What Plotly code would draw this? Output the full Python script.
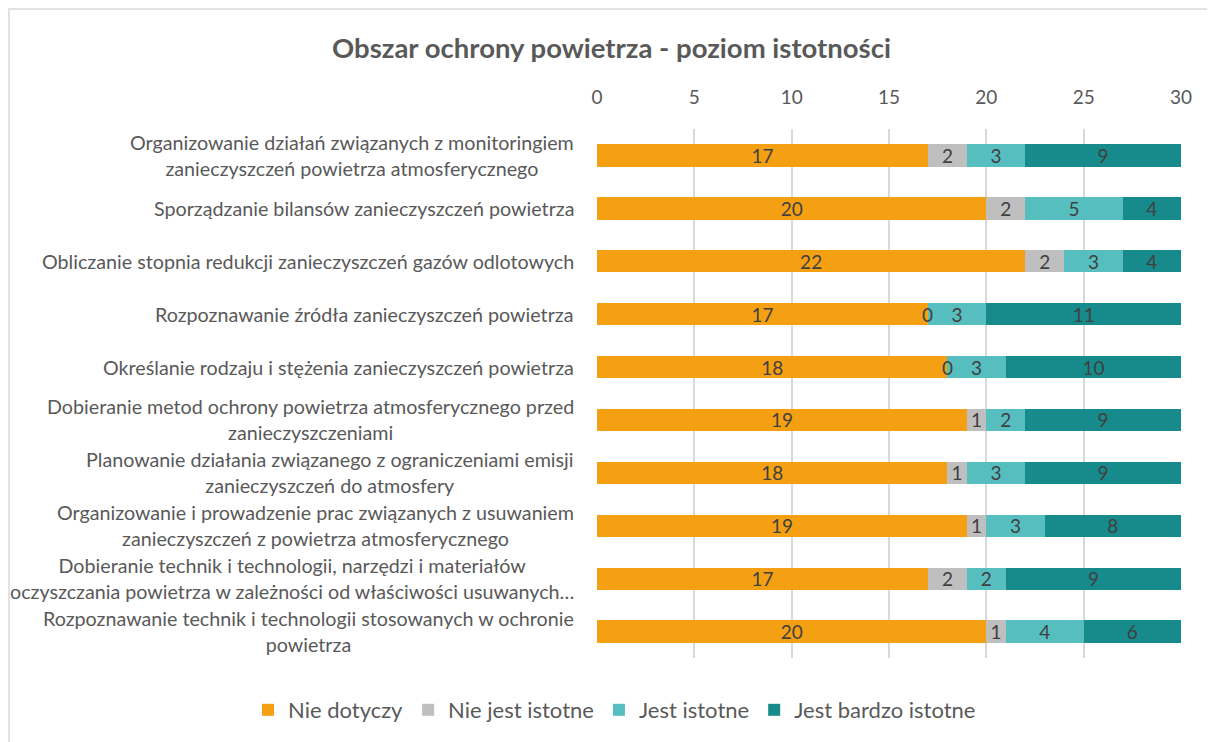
import plotly.graph_objects as go

categories = [
    "Organizowanie działań związanych z monitoringiem<br>zanieczyszczeń powietrza atmosferycznego",
    "Sporządzanie bilansów zanieczyszczeń powietrza",
    "Obliczanie stopnia redukcji zanieczyszczeń gazów odlotowych",
    "Rozpoznawanie źródła zanieczyszczeń powietrza",
    "Określanie rodzaju i stężenia zanieczyszczeń powietrza",
    "Dobieranie metod ochrony powietrza atmosferycznego przed<br>zanieczyszczeniami",
    "Planowanie działania związanego z ograniczeniami emisji<br>zanieczyszczeń do atmosfery",
    "Organizowanie i prowadzenie prac związanych z usuwaniem<br>zanieczyszczeń z powietrza atmosferycznego",
    "Dobieranie technik i technologii, narzędzi i materiałów<br>oczyszczania powietrza w zależności od właściwości usuwanych…",
    "Rozpoznawanie technik i technologii stosowanych w ochronie<br>powietrza",
]
nie_dotyczy = [17, 20, 22, 17, 18, 19, 18, 19, 17, 20]
nie_jest_istotne = [2, 2, 2, 0, 0, 1, 1, 1, 2, 1]
jest_istotne = [3, 5, 3, 3, 3, 2, 3, 3, 2, 4]
jest_bardzo_istotne = [9, 4, 4, 11, 10, 9, 9, 8, 9, 6]

series_names = ["Nie dotyczy", "Nie jest istotne", "Jest istotne", "Jest bardzo istotne"]
series_values = [nie_dotyczy, nie_jest_istotne, jest_istotne, jest_bardzo_istotne]
series_colors = ["#F5A013", "#BFBFBF", "#57BEC0", "#178B8B"]

AXIS_MAX = 30
FONT = "Lato"
TXT = "#404040"
GREY = "#595959"

# the page body has an 8px margin, so the figure is drawn 8px smaller
W, H = 1207, 734
ML, MT = 589, 121
MR, MB = 34, 84
PW, PH = W - ML - MR, H - MT - MB

fig = go.Figure()
annotations = []
cum = [0] * len(categories)
for name, vals, color in zip(series_names, series_values, series_colors):
    # visible part of each segment inside the fixed 0-30 axis (as in the original chart)
    vis = [max(0, min(c + v, AXIS_MAX) - min(c, AXIS_MAX)) for c, v in zip(cum, vals)]
    fig.add_trace(go.Bar(
        name=name, y=categories, x=vis, orientation="h",
        marker=dict(color=color, line=dict(width=0)),
        text=[str(v) for v in vals], textposition="inside",
        insidetextanchor="middle", textangle=0,
        textfont=dict(family=FONT, size=19, color=TXT),
        hovertext=[str(v) for v in vals], hoverinfo="name+y+text",
    ))
    for c, v, cat in zip(cum, vals, categories):
        if v == 0:
            annotations.append(dict(
                xref="x", yref="y", x=c, y=cat, text="0", showarrow=False,
                xanchor="center", yanchor="middle",
                font=dict(family=FONT, size=19, color=TXT)))
    cum = [c + v for c, v in zip(cum, vals)]

annotations += [
    dict(xref="paper", yref="y", x=0, y=c, xanchor="right", yanchor="middle",
         xshift=-21, text=c, align="center", showarrow=False,
         font=dict(family=FONT, size=19.7, color=GREY))
    for c in categories
]

fig.update_layout(
    barmode="stack",
    bargap=0.58,
    width=W, height=H,
    margin=dict(l=ML, r=MR, t=MT, b=MB, autoexpand=False),
    paper_bgcolor="white", plot_bgcolor="white",
    title=dict(text="<b>Obszar ochrony powietrza - poziom istotności</b>",
               x=0.5, xanchor="center", xref="container",
               y=1 - 40 / H, yanchor="middle", yref="container",
               font=dict(family=FONT, size=27.5, color=GREY)),
    xaxis=dict(range=[0, AXIS_MAX], side="top", dtick=5, showgrid=True,
               gridcolor="#D9D9D9", gridwidth=1.5, zeroline=False,
               tickfont=dict(family=FONT, size=19, color=GREY),
               ticks="", ticklabelstandoff=20, automargin=False),
    yaxis=dict(autorange="reversed", showticklabels=False, showgrid=False,
               zeroline=False, automargin=False),
    legend=dict(orientation="h", xref="paper", yref="paper",
                x=(240 - ML) / PW, xanchor="left",
                y=(H - MB - 702) / PH, yanchor="middle",
                font=dict(family=FONT, size=22, color=GREY),
                traceorder="normal", itemwidth=30),
    uniformtext=dict(minsize=19, mode="show"),
    annotations=annotations,
    shapes=[dict(type="rect", xref="paper", yref="paper",
                 x0=(1 - ML) / PW, x1=(W + 20 - ML) / PW,
                 y0=-0.5, y1=(H - MB - 1) / PH,
                 line=dict(color="#D9D9D9", width=1.5), layer="below")],
)

fig.write_html("out.html")
